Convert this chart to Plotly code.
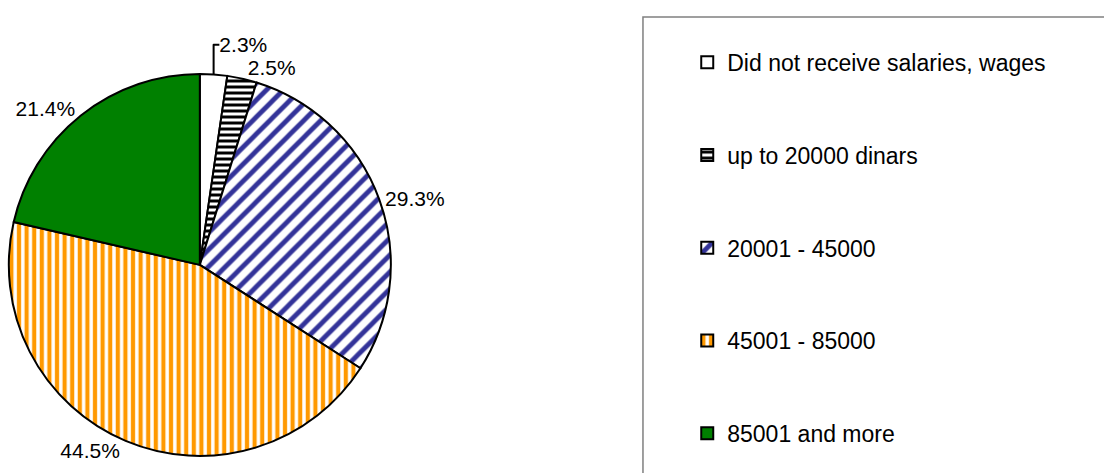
import plotly.graph_objects as go

# salary groups and their shares (%)
categories = [
    "Did not receive salaries, wages",
    "up to 20000 dinars",
    "20001 - 45000",
    "45001 - 85000",
    "85001 and more",
]
shares = [2.3, 2.5, 29.3, 44.5, 21.4]

fills = ["white", "white", "white", "white", "#008000"]
stripes = ["black", "black", "#333399", "#FF9900", "#008000"]
shapes = ["", "-", "/", "|", ""]

# blank lines above each legend entry spread them out like the original
legend_names = ["<br>" + categories[0]] + ["<br><br>" + c for c in categories[1:]]

fig = go.Figure(go.Pie(
    labels=legend_names,
    values=shares,
    sort=False,
    direction="clockwise",
    rotation=0,
    texttemplate="%{value:.1f}%",
    textposition="outside",
    textfont=dict(size=21, color="black"),
    hovertemplate="%{customdata}: %{value:.1f}%<extra></extra>",
    customdata=categories,
    marker=dict(
        colors=fills,
        line=dict(color="black", width=2),
        pattern=dict(
            shape=shapes,
            fgcolor=stripes,
            bgcolor=fills,
            size=[8, 6, 12, 7.6, 8],
            solidity=[0.5, 0.5, 0.4, 0.55, 0.5],
            fillmode="replace",
        ),
    ),
    domain=dict(x=[0.008, 0.354], y=[0.036, 0.844]),
))

fig.update_layout(
    width=1104,
    height=473,
    margin=dict(l=0, r=0, t=0, b=0),
    paper_bgcolor="white",
    font=dict(family="Arial, Liberation Sans, sans-serif", size=23, color="black"),
    legend=dict(
        x=0.6225, y=0.9767, xanchor="left", yanchor="top",
        valign="bottom",
        font=dict(size=23),
        bgcolor="rgba(0,0,0,0)",
        borderwidth=0,
        maxheight=2000,
    ),
    shapes=[dict(
        type="rect", xref="paper", yref="paper",
        x0=0.5824, x1=1.05, y0=-0.1, y1=0.964,
        line=dict(color="#808080", width=1.5),
        fillcolor="rgba(0,0,0,0)",
    )],
)

fig.write_html(
    "out.html",
    config={"displayModeBar": False},
    post_script="document.body.style.margin='0';",
)
